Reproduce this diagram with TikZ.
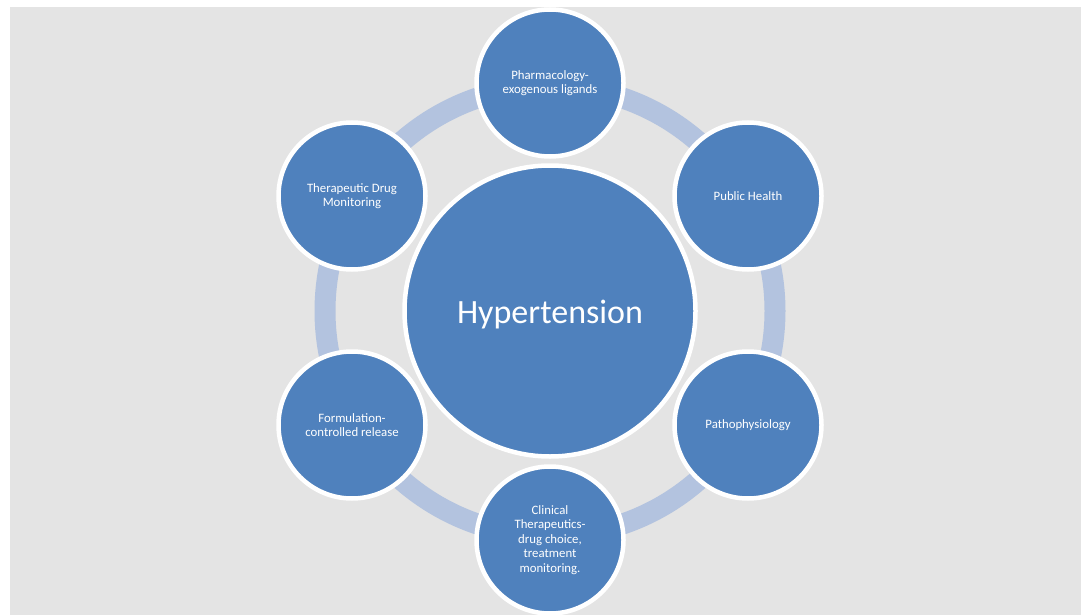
\documentclass[tikz,border=0pt]{standalone}
\usepackage{fontspec}
\setmainfont{Carlito}
\definecolor{bgGray}{HTML}{E4E4E4}
\definecolor{nodeBlue}{HTML}{4F81BD}
\definecolor{ringBlue}{HTML}{B3C3DF}
\tikzset{
  outer/.style={circle, draw=white, line width=4.5pt, fill=nodeBlue, minimum size=147pt, inner sep=0pt,
    text=white, align=center, font=\fontsize{12.8}{14.5}\selectfont},
  hub/.style={circle, draw=white, line width=4.5pt, fill=nodeBlue, minimum size=291pt, inner sep=0pt,
    text=white, text height=26pt, text depth=2pt, font=\fontsize{34}{40}\selectfont},
  ring/.style={draw=ringBlue, line width=21pt}
}
\begin{document}
\begin{tikzpicture}[x=1pt, y=-1pt]
\useasboundingbox (0,0) rectangle (1081,615);
\fill[white] (0,0) rectangle (1081,615);
\fill[bgGray] (10,7) rectangle (1081,615);
\begin{scope}
\clip (10,7) rectangle (1081,615);
\coordinate (c) at (550,311);
\draw[ring] (c) circle[radius=225pt];
\node[hub] (hyp) at (c) {Hypertension};
\node[outer] (pharm) at (550,83) {Pharmacology-\\exogenous ligands};
\node[outer] (pub) at (748,196) {Public Health};
\node[outer] (patho) at (748,425) {Pathophysiology};
\node[outer] (clin) at (550,540) {Clinical\\Therapeutics-\\drug choice,\\treatment\\monitoring.};
\node[outer] (form) at (352,425) {Formulation-\\controlled release};
\node[outer] (tdm) at (352,196) {Therapeutic Drug\\Monitoring};
\end{scope}
\end{tikzpicture}
\end{document}
